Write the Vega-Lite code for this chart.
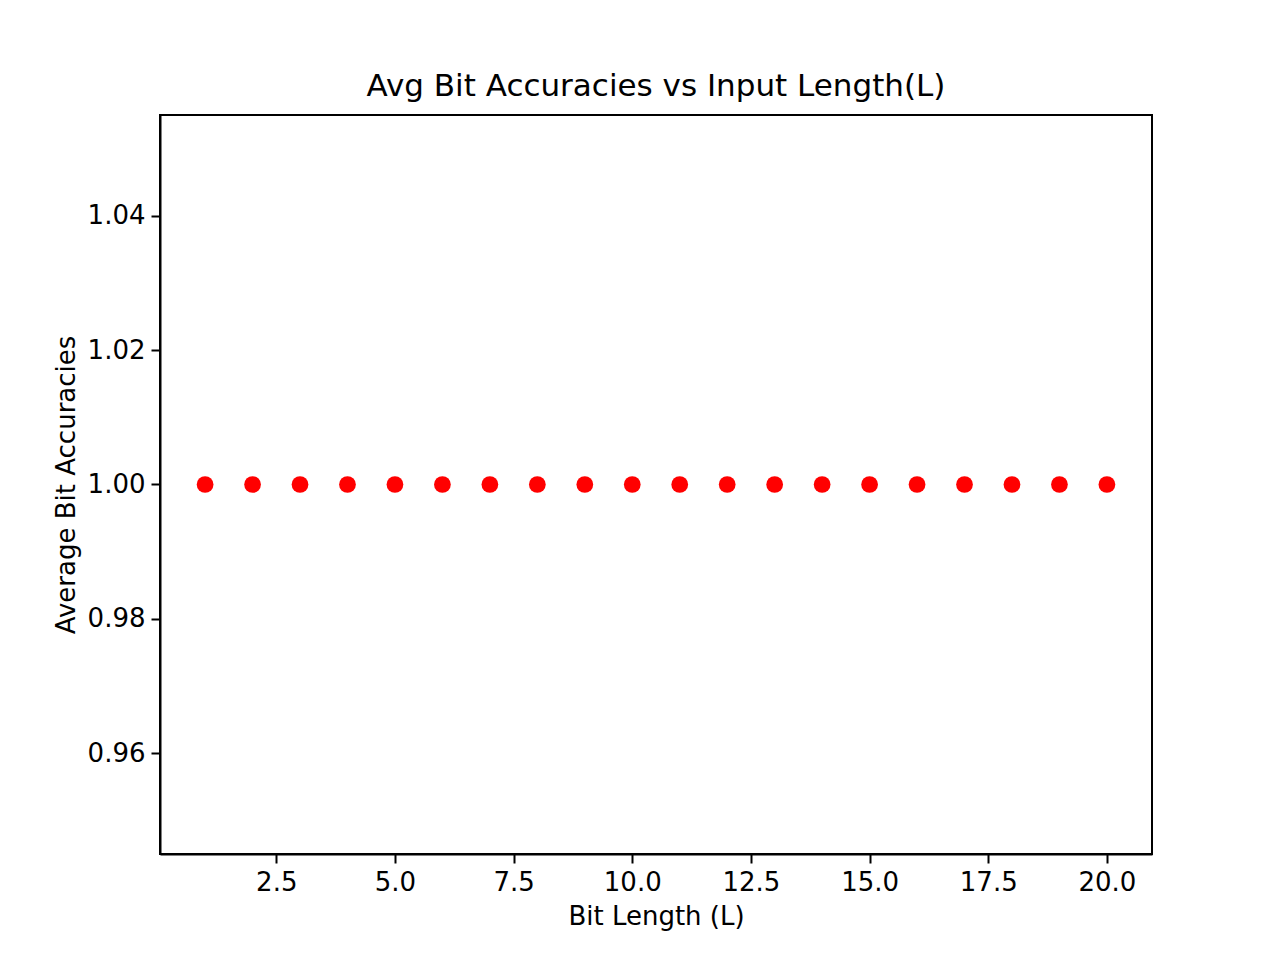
{
  "$schema": "https://vega.github.io/schema/vega-lite/v6.json",
  "autosize": "none",
  "width": 992,
  "height": 739,
  "padding": {"left": 160, "top": 115, "right": 128, "bottom": 106},
  "background": "white",
  "title": {"text": "Avg Bit Accuracies vs Input Length(L)", "font": "DejaVu Sans", "fontSize": 31, "fontWeight": "normal", "offset": 12},
  "data": {
    "values": [
      {"L": 1, "acc": 1.0}, {"L": 2, "acc": 1.0}, {"L": 3, "acc": 1.0}, {"L": 4, "acc": 1.0},
      {"L": 5, "acc": 1.0}, {"L": 6, "acc": 1.0}, {"L": 7, "acc": 1.0}, {"L": 8, "acc": 1.0},
      {"L": 9, "acc": 1.0}, {"L": 10, "acc": 1.0}, {"L": 11, "acc": 1.0}, {"L": 12, "acc": 1.0},
      {"L": 13, "acc": 1.0}, {"L": 14, "acc": 1.0}, {"L": 15, "acc": 1.0}, {"L": 16, "acc": 1.0},
      {"L": 17, "acc": 1.0}, {"L": 18, "acc": 1.0}, {"L": 19, "acc": 1.0}, {"L": 20, "acc": 1.0}
    ]
  },
  "mark": {"type": "circle", "color": "red", "opacity": 1, "size": 280},
  "encoding": {
    "x": {
      "field": "L", "type": "quantitative",
      "scale": {"domain": [0.05, 20.95], "nice": false, "zero": false},
      "axis": {"values": [2.5, 5, 7.5, 10, 12.5, 15, 17.5, 20], "format": ".1f", "title": "Bit Length (L)", "grid": false}
    },
    "y": {
      "field": "acc", "type": "quantitative",
      "scale": {"domain": [0.945, 1.055], "nice": false, "zero": false},
      "axis": {"values": [0.96, 0.98, 1.0, 1.02, 1.04], "format": ".2f", "title": "Average Bit Accuracies", "grid": false}
    }
  },
  "config": {
    "view": {"stroke": "black", "strokeWidth": 2},
    "axis": {
      "labelFont": "DejaVu Sans", "labelFontSize": 26, "labelColor": "black",
      "titleFont": "DejaVu Sans", "titleFontSize": 26, "titleFontWeight": "normal", "titleColor": "black",
      "domainColor": "black", "domainWidth": 2, "tickColor": "black", "tickWidth": 2, "tickSize": 9,
      "labelPadding": 6, "titlePadding": 8
    }
  }
}
